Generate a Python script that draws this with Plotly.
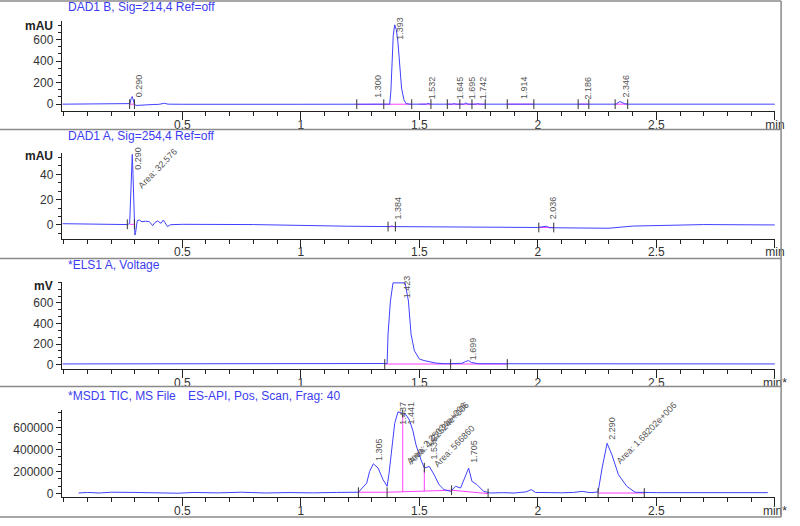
import plotly.graph_objects as go

# ---------------- data ----------------
# DAD1 B, Sig=214,4 (mAU)
dadb_t = [-0.005, 0.27, 0.279, 0.285, 0.289, 0.293, 0.298, 0.305, 0.33, 0.36, 0.37, 0.38, 0.40,
          0.415, 0.425, 0.44, 0.5, 1.0, 1.236, 1.36, 1.375, 1.38, 1.385, 1.39, 1.396, 1.403,
          1.41, 1.417, 1.425, 1.435, 1.444, 1.46, 1.53, 1.535, 1.545, 1.64, 1.645, 1.655, 1.69,
          1.695, 1.705, 1.74, 1.745, 1.755, 1.90, 1.914, 1.93, 2.18, 2.186, 2.2, 2.33, 2.346,
          2.365, 2.38, 3.0]
dadb_v = [0, 0, 5, 55, 71, 40, 0, -12, -8, -5, 2, -3, -2,
          6, 8, 0, -1, -1, -2, -3, 0, 120, 415, 640, 738, 692,
          570, 323, 150, 40, 5, 0, 0, 8, 0, 0, 5, 0, 0,
          12, 0, 0, 5, 0, 0, 6, 0, 0, 4, 0, 0, 25,
          5, 0, 0]
dadb_labels = ["0.290", "1.300", "1.393", "1.532", "1.645", "1.695", "1.742", "1.914", "2.186", "2.346"]
dadb_label_y = [46, 46, 584, 30, 28, 28, 28, 28, 28, 46]
dadb_pink_t = [0.278, 0.298, None, 1.236, 1.468, None, 1.50, 1.549, None, 1.618, 1.778, None,
               1.871, 1.983, None, 2.17, 2.215, None, 2.326, 2.379]
dadb_pink_v = [0, 0, None, -2, 0, None, 0, 0, None, 0, 0, None, 0, 0, None, 0, 0, None, 0, 0]
dadb_tick_t = [0.278, 0.298, 1.236, 1.35, 1.468, 1.549, 1.618, 1.671, 1.722, 1.778, 1.871,
               1.983, 2.17, 2.215, 2.326, 2.379]
dadb_tick_v = [0] * len(dadb_tick_t)

# DAD1 A, Sig=254,4 (mAU)
dada_t = [-0.005, 0.1, 0.2, 0.27, 0.278, 0.283, 0.287, 0.289, 0.292, 0.296, 0.3, 0.303, 0.31,
          0.319, 0.33, 0.345, 0.361, 0.375, 0.385, 0.396, 0.41, 0.42, 0.4375, 0.45, 0.5, 0.8,
          1.0, 1.2, 1.38, 1.384, 1.39, 1.6, 2.0, 2.036, 2.05, 2.3, 2.35, 2.4, 2.7, 3.0]
dada_v = [1.0, 0.8, 0.5, 0.3, 1.3, 30, 52, 55.7, 40, 10, -8, -6, 3.4,
          3.9, 2.5, 3.0, 2.6, -0.5, 2.0, 3.1, 1.3, 3.9, -1.3, 0.2, 0.5, 0.3,
          -0.5, -1.0, -1.3, -0.6, -1.3, -1.5, -2.0, -1.0, -2.2, -2.6, -1.8, -0.9, 0.3, 0.0]
dada_labels = ["0.290", "1.384", "2.036"]
dada_label_y = [42, 2.9, 2.9]
dada_area = [("Area: 32.576", 0.296, 25)]
dada_pink_t = [0.278, 0.298, None, 1.368, 1.399, None, 2.004, 2.067]
dada_pink_v = [0.5, 0.5, None, -1.3, -1.3, None, -2.0, -2.0]
dada_tick_t = [0.268, 0.298, 1.368, 1.399, 2.004, 2.067]
dada_tick_v = [0.5, 0.5, -1.3, -1.3, -2.0, -2.0]

# *ELS1 A, Voltage (mV)
els_t = [-0.005, 1.35, 1.364, 1.368, 1.378, 1.389, 1.44, 1.454, 1.465, 1.479, 1.5, 1.52, 1.54,
         1.57, 1.61, 1.68, 1.695, 1.708, 1.72, 1.75, 3.0]
els_v = [6, 6, 10, 296, 618, 795, 795, 618, 296, 135, 54, 39, 29,
         14, 8, 12, 30, 38, 20, 8, 6]
els_labels = ["1.423", "1.699"]
els_label_y = [621, 22]
els_pink_t = [1.354, 1.871]
els_pink_v = [5, 5]
els_tick_t = [1.354, 1.632, 1.871]
els_tick_v = [5, 5, 5]

# *MSD1 TIC, MS File
tic_t = [0.0625, 0.1, 0.15, 0.2, 0.3, 0.4, 0.48, 0.55, 0.65, 0.75, 0.85, 0.95, 1.05, 1.15,
         1.243, 1.278, 1.29, 1.306, 1.326, 1.347, 1.364, 1.372, 1.382, 1.396, 1.41, 1.42, 1.43,
         1.445, 1.458, 1.472, 1.486, 1.507, 1.521, 1.542, 1.5625, 1.583, 1.604, 1.632, 1.653,
         1.674, 1.694, 1.708, 1.722, 1.743, 1.771, 1.8, 1.85, 1.9, 1.95, 1.972, 1.99, 2.05,
         2.1, 2.15, 2.1875, 2.22, 2.254, 2.271, 2.292, 2.3125, 2.34, 2.375, 2.41, 2.5, 2.7, 2.97]
tic_v = [5000, 10000, 5000, 12000, 10000, 9000, 3000, 10000, 6000, 12000, 5000, 9000, 6000, 10000,
         12000, 95000, 200000, 270000, 231000, 126000, 66000, 180000, 366000, 636000, 741000,
         735000, 726000, 711000, 666000, 577000, 441000, 306000, 231000, 246000, 171000, 81000,
         36000, 20000, 66000, 50000, 156000, 231000, 111000, 81000, 20000, 5000, 8000, 5000,
         15000, 36000, 10000, 5000, 7000, 10000, 20000, 8000, 14000, 231000, 456000, 351000,
         171000, 66000, 12000, 8000, 8000, 8000]
tic_labels = ["1.305", "1.437", "1.441", "1.535", "1.705", "2.290"]
tic_label_y = [273000, 606000, 606000, 291000, 264000, 471000]
tic_area = [("Area: 2.25034e+006", 1.429, 220000), ("Area: 1.22524e+006", 1.435, 224000),
            ("Area: 566860", 1.542, 201000), ("Area: 1.68202e+006", 2.3125, 220000)]
tic_pink_t = [1.243, 1.364, 1.636, 1.79, None, 1.43, 1.43, None, 1.521, 1.521, None, 2.254, 2.449]
tic_pink_v = [12000, 12000, 30000, 0, None, 14000, 714000, None, 20000, 219000, None, 5000, 5000]
tic_tick_t = [1.243, 1.364, 1.43, 1.521, 1.636, 1.79, 2.254, 2.449]
tic_tick_v = [12000, 12000, 735000, 235000, 30000, 0, 5000, 5000]

# ---------------- styling / layout ----------------
W, H = 800, 526
BLUE = "rgb(64,64,255)"
PINK = "rgb(255,64,255)"
FONT = "Arial, Liberation Sans, sans-serif"


def px(p):
    return p / W


def py(p):
    return 1 - p / H


panels = [
    dict(t=dadb_t, v=dadb_v, labels=dadb_labels, label_y=dadb_label_y, area=[],
         pink=(dadb_pink_t, dadb_pink_v), ticks=(dadb_tick_t, dadb_tick_v),
         yrange=[-65, 775], ymajor=[0, 200, 400, 600], ydt=200, dom=(112, 21),
         unit="mAU", unit_y=26.7, title=["DAD1 B, Sig=214,4 Ref=off"], title_y=7, xlast="min"),
    dict(t=dada_t, v=dada_v, labels=dada_labels, label_y=dada_label_y, area=dada_area,
         pink=(dada_pink_t, dada_pink_v), ticks=(dada_tick_t, dada_tick_v),
         yrange=[-11, 57], ymajor=[0, 20, 40], ydt=20, dom=(240.7, 154),
         unit="mAU", unit_y=157.3, title=["DAD1 A, Sig=254,4 Ref=off"], title_y=137, xlast="min"),
    dict(t=els_t, v=els_v, labels=els_labels, label_y=els_label_y, area=[],
         pink=(els_pink_t, els_pink_v), ticks=(els_tick_t, els_tick_v),
         yrange=[-45, 805], ymajor=[0, 200, 400, 600], ydt=200, dom=(372, 284),
         unit="mV", unit_y=288.3, title=["*ELS1 A, Voltage"], title_y=267.3, xlast="min*"),
    dict(t=tic_t, v=tic_v, labels=tic_labels, label_y=tic_label_y, area=tic_area,
         pink=(tic_pink_t, tic_pink_v), ticks=(tic_tick_t, tic_tick_v),
         yrange=[-33000, 759000], ymajor=[0, 200000, 400000, 600000], ydt=200000, dom=(501, 413),
         unit=None, unit_y=None, title=["*MSD1 TIC, MS File", "ES-API, Pos, Scan, Frag: 40"],
         title_y=399, xlast="min*"),
]

fig = go.Figure()
annotations = []
layout = {}
label_font = dict(family=FONT, size=9, color="#555")

for i, p in enumerate(panels, start=1):
    xa = "x" if i == 1 else f"x{i}"
    ya = "y" if i == 1 else f"y{i}"
    # integration baselines (pink), signal (blue), boundary ticks
    fig.add_trace(go.Scatter(x=p["pink"][0], y=p["pink"][1], mode="lines", xaxis=xa, yaxis=ya,
                             line=dict(color=PINK, width=1), connectgaps=False, hoverinfo="skip"))
    fig.add_trace(go.Scatter(x=p["t"], y=p["v"], mode="lines", xaxis=xa, yaxis=ya,
                             line=dict(color=BLUE, width=1), hoverinfo="skip"))
    fig.add_trace(go.Scatter(x=p["ticks"][0], y=p["ticks"][1], mode="markers", xaxis=xa, yaxis=ya,
                             marker=dict(symbol="line-ns", size=7, line=dict(color="#333", width=1)),
                             hoverinfo="skip"))

    key = "" if i == 1 else str(i)
    layout["xaxis" + key] = dict(
        domain=[px(62.7), px(786.7)], anchor=ya, range=[-0.0085, 3.0],
        showline=True, linecolor="#222", linewidth=1, showgrid=False, zeroline=False,
        ticks="outside", ticklen=8, tickcolor="#222", ticklabelstandoff=-6,
        tickvals=[0.5, 1, 1.5, 2, 2.5, 3], ticktext=["0.5", "1", "1.5", "2", "2.5", p["xlast"]],
        minor=dict(dtick=0.1, tick0=0, ticks="outside", ticklen=4, tickcolor="#222"),
        tickfont=dict(family=FONT, size=12, color="#333"))
    layout["yaxis" + key] = dict(
        domain=[py(p["dom"][0]), py(p["dom"][1])], anchor=xa, range=p["yrange"],
        showline=True, linecolor="#222", linewidth=1, showgrid=False, zeroline=False,
        ticks="outside", ticklen=5, tickcolor="#222", tickvals=p["ymajor"], tickformat="d",
        minor=dict(dtick=p["ydt"] / 3, tick0=0, ticks="outside", ticklen=3, tickcolor="#222"),
        tickfont=dict(family=FONT, size=12, color="#333"))

    for txt, yb in zip(p["labels"], p["label_y"]):
        annotations.append(dict(x=float(txt), y=yb, xref=xa, yref=ya, text=txt, textangle=-90,
                                showarrow=False, xanchor="center", yanchor="bottom",
                                xshift=-1 if txt == "1.437" else 6, font=label_font))
    for txt, xx, yy in p["area"]:
        annotations.append(dict(x=xx, y=yy, xref=xa, yref=ya, text=txt, textangle=-46,
                                showarrow=False, xanchor="left", yanchor="bottom",
                                font=label_font))
    if p["unit"]:
        annotations.append(dict(x=px(55.5), y=py(p["unit_y"]), xref="paper", yref="paper",
                                text="<b>" + p["unit"] + "</b>", showarrow=False,
                                xanchor="right", yanchor="middle",
                                font=dict(family=FONT, size=12, color="#222")))
    title_x = [67, 189]
    for tx, ttl in zip(title_x, p["title"]):
        annotations.append(dict(x=px(tx), y=py(p["title_y"]), xref="paper", yref="paper",
                                text=ttl, showarrow=False, xanchor="left", yanchor="middle",
                                font=dict(family=FONT, size=12, color="rgb(60,60,240)")))

# panel frames
shapes = []
for yy in [1, 130.5, 260.5, 389.5, 521]:
    shapes.append(dict(type="line", xref="paper", yref="paper", x0=0, x1=px(793),
                       y0=py(yy), y1=py(yy), line=dict(color="#8a8a8a", width=1.5)))
shapes.append(dict(type="line", xref="paper", yref="paper", x0=px(793), x1=px(793),
                   y0=py(1), y1=py(521), line=dict(color="#8a8a8a", width=1.5)))

fig.update_layout(
    width=W, height=H, margin=dict(l=0, r=0, t=0, b=0),
    paper_bgcolor="white", plot_bgcolor="white", showlegend=False,
    annotations=annotations, shapes=shapes, **layout)

# the page body has a default 8px margin; drop it so the figure sits at the window origin
fig.write_html("out.html", config={"displayModeBar": False},
               post_script="document.body.style.margin='0';")
